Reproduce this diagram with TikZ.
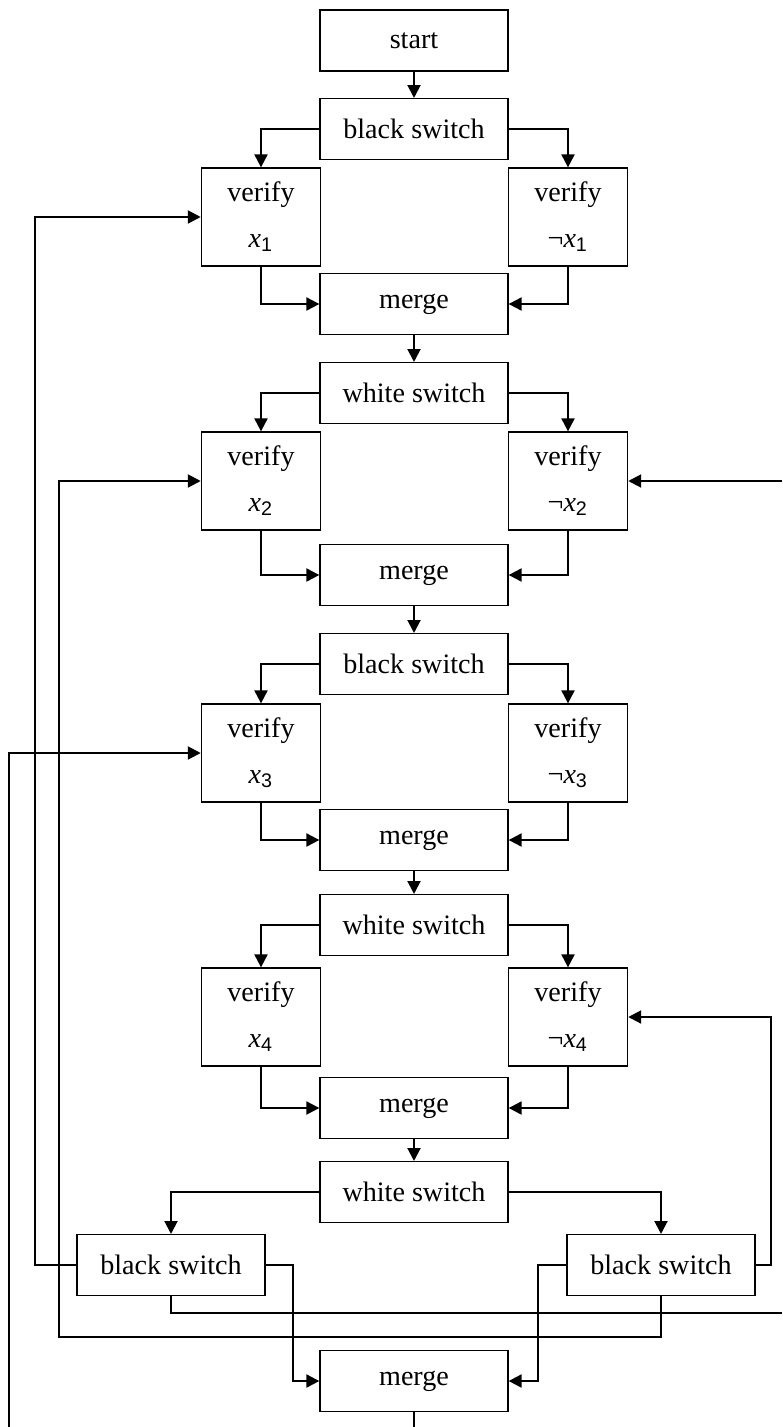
\documentclass[tikz,border=0pt]{standalone}
\usepackage{fontspec}
\setmainfont{Liberation Serif}
\newfontfamily\subfont{Liberation Sans}
\usetikzlibrary{arrows.meta}
\tikzset{
  blk/.style={draw, line width=0.45pt, minimum width=2.35cm, minimum height=0.76cm, inner sep=0pt},
  vfy/.style={draw, line width=0.45pt, minimum width=1.49cm, minimum height=1.225cm, align=center, inner sep=0pt},
  wire/.style={line width=0.75pt, -{Triangle[length=4.6pt,width=4.6pt]}},
  lead/.style={line width=0.75pt},
}
\newcommand{\lit}[2]{verify\\[4.3pt]#1\textit{x}\textsubscript{\subfont #2}}
\begin{document}
\begin{tikzpicture}[x=0.0125cm, y=-0.0125cm, line join=miter]
            \useasboundingbox (0,0) rectangle (782,1427);
            \node[blk] (start) at (414,40.5) {start};
            % four stages: switch, two checks, merge
            \foreach \i/\sw/\ys/\yv/\ym in {1/black/129/217/304, 2/white/393/481/575, 3/black/664/753/840, 4/white/925/1017/1108}{
            \node[blk] (sw\i) at (414,\ys) {\sw{} switch};
            \node[vfy] (vp\i) at (261,\yv) {\lit{}{\i}};
            \node[vfy] (vn\i) at (568,\yv) {\lit{¬}{\i}};
            \node[blk] (mg\i) at (414,\ym) {merge};
            \draw[wire] (sw\i.west) -| (vp\i.north);
            \draw[wire] (sw\i.east) -| (vn\i.north);
            \draw[wire] (vp\i.south) |- (mg\i.west);
            \draw[wire] (vn\i.south) |- (mg\i.east);
            }
            \node[blk] (sw5) at (414,1192) {white switch};
            \node[blk] (bl) at (171,1265) {black switch};
            \node[blk] (br) at (661,1265) {black switch};
            \node[blk] (mg5) at (414,1381) {merge};
            \path
            (782,481) coordinate (eR2)
            (782,1313) coordinate (eR1)
            (414,1427) coordinate (eB)
            (9,1427) coordinate (eL);
            \draw[wire] (start.south) -- (sw1.north);
            \foreach \i/\j in {1/2,2/3,3/4,4/5}
            \draw[wire] (mg\i.south) -- (sw\j.north);
            \draw[wire] (sw5.west) -| (bl.north);
            \draw[wire] (sw5.east) -| (br.north);
            \draw[wire] (bl.east) -- ++(27,0) |- (mg5.west);
            \draw[wire] (br.west) -- ++(-28,0) |- (mg5.east);
            \draw[wire] (bl.west) -- ++(-41,0) |- (vp1.west);
            \draw[lead] (bl.south) |- (eR1);
            \draw[wire] (eR2) -- (vn2.east);
            \draw[wire] (br.east) -- ++(15,0) |- (vn4.east);
            \draw[wire] (br.south) |- (59,1337) |- (vp2.west);
            \draw[lead] (mg5.south) -- (eB);
            \draw[wire] (eL) |- (vp3.west);
    \end{tikzpicture}
\end{document}
